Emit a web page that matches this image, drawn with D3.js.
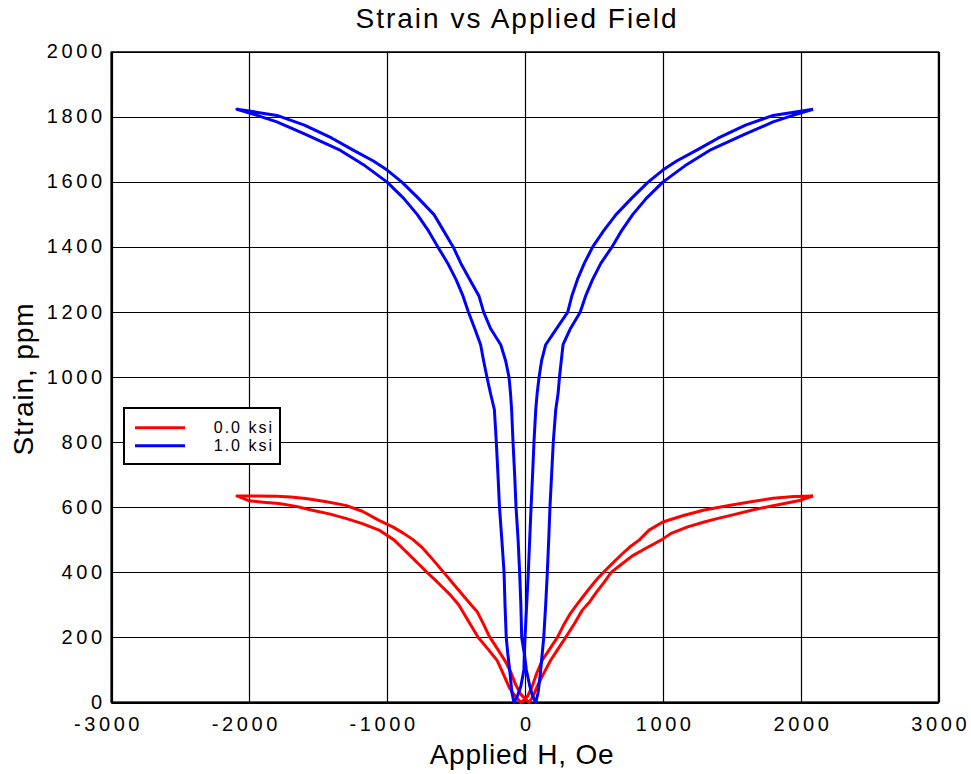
<!DOCTYPE html>
<html><head><meta charset="utf-8">
<script src="https://cdn.jsdelivr.net/npm/d3@7"></script>
<style>body{margin:0;background:#fff}svg{display:block}</style>
</head><body>
<svg id="chart" width="971" height="774"></svg>
<script>
// ---- data ----
const chartTitle = "Strain vs Applied Field";
const xLabel = "Applied H, Oe";
const yLabel = "Strain, ppm";
const xTicks = [-3000, -2000, -1000, 0, 1000, 2000, 3000];
const yTicks = [0, 200, 400, 600, 800, 1000, 1200, 1400, 1600, 1800, 2000];
const seriesNames = ["0.0 ksi", "1.0 ksi"];
const seriesColors = ["#ff0000", "#0000ff"];

// 0.0 ksi loop: descending sweep (+H to -H) then ascending sweep
const redH = [2090, 1950, 1800, 1650, 1500, 1300, 1150, 1000, 900, 830, 760, 700, 640, 580, 520, 470, 420, 375, 331, 280, 235, 180, 125, 85, 51, 20, 0, -31,
  -60, -90, -116, -160, -203, -270, -339, -410, -480, -540, -600, -660, -711, -770, -830, -890, -951, -1059, -1180, -1301, -1420, -1544, -1660, -1786, -1900, -2000, -2090,
  -1950, -1800, -1700, -1591, -1450, -1301, -1180, -1059, -960, -880, -810, -750, -690, -630, -570, -510, -450, -390, -348, -300, -261, -200, -140, -100, -68, -30, 0, 29,
  60, 87, 130, 186, 240, 295, 355, 416, 470, 520, 575, 625, 700, 776, 880, 990, 1060, 1180, 1300, 1400, 1500, 1650, 1800, 2000, 2090];
const redS = [635, 633, 628, 618, 607, 592, 575, 555, 530, 500, 478, 455, 430, 405, 378, 352, 325, 300, 275, 238, 200, 165, 130, 90, 48, 20, 10, 0,
  15, 30, 48, 90, 130, 165, 200, 250, 300, 330, 355, 380, 400, 425, 450, 475, 500, 530, 550, 566, 580, 591, 603, 612, 616, 620, 635,
  635, 634, 632, 627, 618, 606, 588, 560, 540, 520, 500, 478, 450, 420, 390, 360, 330, 300, 280, 240, 205, 165, 125, 90, 55, 25, 12, 0,
  20, 48, 85, 130, 165, 200, 240, 284, 310, 340, 370, 400, 425, 450, 475, 500, 520, 540, 555, 566, 576, 592, 605, 622, 635];

// 1.0 ksi loop
const blueH = [2090, 1950, 1800, 1600, 1400, 1253, 1100, 1000, 893, 780, 660, 570, 490, 430, 380, 340, 310, 230, 150, 120, 102, 88, 78, 65, 55, 44, 34, 24, 12, 0, -5, -8, -30, -55, -80,
  -95, -111, -125, -136, -145, -152, -168, -185, -196, -208, -222, -250, -276, -300, -322, -365, -410, -450, -500, -560, -631, -700, -781, -880, -1000, -1160, -1350, -1600, -1800, -1950, -2090,
  -1950, -1800, -1600, -1400, -1253, -1100, -1000, -893, -780, -660, -590, -520, -465, -400, -334, -300, -250, -176, -140, -116, -105, -97, -87, -75, -65, -50, -39, -30, -24, -5, 10, 35, 55, 78,
  95, 114, 125, 136, 150, 162, 172, 181, 193, 205, 223, 240, 250, 263, 276, 330, 400, 440, 490, 550, 630, 700, 781, 880, 1000, 1160, 1350, 1600, 1800, 1950, 2090];
const blueS = [1824, 1815, 1805, 1775, 1735, 1700, 1665, 1637, 1600, 1553, 1500, 1450, 1400, 1350, 1300, 1250, 1200, 1150, 1100, 1050, 1000, 950, 900, 800, 700, 600, 500, 400, 300, 200, 150, 100, 50, 20, 0,
  30, 100, 150, 200, 300, 400, 500, 600, 700, 800, 900, 950, 1000, 1050, 1100, 1150, 1200, 1250, 1300, 1350, 1400, 1450, 1500, 1550, 1600, 1650, 1700, 1748, 1785, 1806, 1824,
  1815, 1805, 1775, 1735, 1700, 1665, 1637, 1600, 1553, 1500, 1450, 1400, 1350, 1300, 1250, 1200, 1150, 1100, 1050, 1000, 950, 900, 800, 700, 600, 500, 400, 300, 200, 150, 100, 50, 20, 0,
  30, 100, 150, 200, 300, 400, 500, 600, 700, 800, 900, 950, 1000, 1050, 1100, 1150, 1200, 1250, 1300, 1350, 1400, 1450, 1500, 1550, 1600, 1650, 1700, 1748, 1785, 1806, 1824];

const seriesH = [redH, blueH];
const seriesS = [redS, blueS];

// ---- drawing ----
const svg = d3.select("#chart");
const FONT = "'Liberation Sans', Arial, Helvetica, sans-serif";
const L = 111.5, R = 938.5, T = 52, B = 702.5;
const x = d3.scaleLinear().domain([-3000, 3000]).range([L, R]);
const y = d3.scaleLinear().domain([0, 2000]).range([B, T]);

svg.append("rect").attr("width", 971).attr("height", 774).attr("fill", "#fff");

// grid
const g = svg.append("g");
g.selectAll(".gx").data(xTicks).join("line")
  .attr("x1", d => Math.round(x(d)) + 0.5).attr("x2", d => Math.round(x(d)) + 0.5)
  .attr("y1", T).attr("y2", B).attr("stroke", "#000").attr("stroke-width", 1.2);
g.selectAll(".gy").data(yTicks).join("line")
  .attr("y1", d => Math.round(y(d)) + 0.5).attr("y2", d => Math.round(y(d)) + 0.5)
  .attr("x1", L).attr("x2", R).attr("stroke", "#000").attr("stroke-width", 1.2);

// frame
svg.append("rect").attr("x", L).attr("y", T).attr("width", R - L).attr("height", B - T)
  .attr("fill", "none").attr("stroke", "#000").attr("stroke-width", 1.5);
svg.append("line").attr("x1", L).attr("x2", R).attr("y1", B).attr("y2", B).attr("stroke", "#000").attr("stroke-width", 2.2);
svg.append("line").attr("x1", L).attr("x2", L).attr("y1", T).attr("y2", B).attr("stroke", "#000").attr("stroke-width", 2);

// axes tick labels
const xAxis = d3.axisBottom(x).tickValues(xTicks).tickSize(0).tickFormat(d => String(d));
const xa = svg.append("g").attr("transform", `translate(0,${B})`).call(xAxis);
xa.select(".domain").remove();
xa.selectAll("text").attr("y", 0).attr("dy", 28)
  .attr("dx", d => d < 0 ? -3.5 : 1.8)
  .style("font-family", FONT).style("font-size", "20px").style("letter-spacing", "3.6px").attr("fill", "#000");

const yAxis = d3.axisLeft(y).tickValues(yTicks).tickSize(0).tickFormat(d => String(d));
const ya = svg.append("g").attr("transform", `translate(${L},0)`).call(yAxis);
ya.select(".domain").remove();
ya.selectAll("text").attr("x", -5.8).attr("dy", 5.8)
  .style("font-family", FONT).style("font-size", "20px").style("letter-spacing", "3.6px").attr("fill", "#000");

// curves
const line = d3.line().x(d => x(d[0])).y(d => y(d[1]));
seriesH.forEach((hs, i) => {
  const pts = hs.map((h, k) => [h, seriesS[i][k]]);
  svg.append("path").datum(pts).attr("d", line).attr("fill", "none")
    .attr("stroke", seriesColors[i]).attr("stroke-width", 3).attr("stroke-linejoin", "round");
});

// title & labels
svg.append("text").attr("x", 517).attr("y", 27.5).attr("text-anchor", "middle")
  .style("font-family", FONT).style("font-size", "28px").style("letter-spacing", "2px").text(chartTitle);
svg.append("text").attr("x", 522).attr("y", 764).attr("text-anchor", "middle")
  .style("font-family", FONT).style("font-size", "28px").style("letter-spacing", "0.8px").text(xLabel);
svg.append("text").attr("transform", "translate(33,379) rotate(-90)").attr("text-anchor", "middle")
  .style("font-family", FONT).style("font-size", "28px").style("letter-spacing", "0.9px").text(yLabel);

// legend
const lg = svg.append("g");
lg.append("rect").attr("x", 124).attr("y", 408).attr("width", 156).attr("height", 56)
  .attr("fill", "#fff").attr("stroke", "#000").attr("stroke-width", 2);
seriesNames.forEach((name, i) => {
  const yy = 427.7 + i * 18;
  lg.append("line").attr("x1", 135).attr("x2", 185).attr("y1", yy).attr("y2", yy)
    .attr("stroke", seriesColors[i]).attr("stroke-width", 3);
  lg.append("text").attr("x", 274).attr("y", yy + 5.3).attr("text-anchor", "end")
    .style("font-family", FONT).style("font-size", "16px").style("letter-spacing", "2px").text(name);
});
</script>
</body></html>
